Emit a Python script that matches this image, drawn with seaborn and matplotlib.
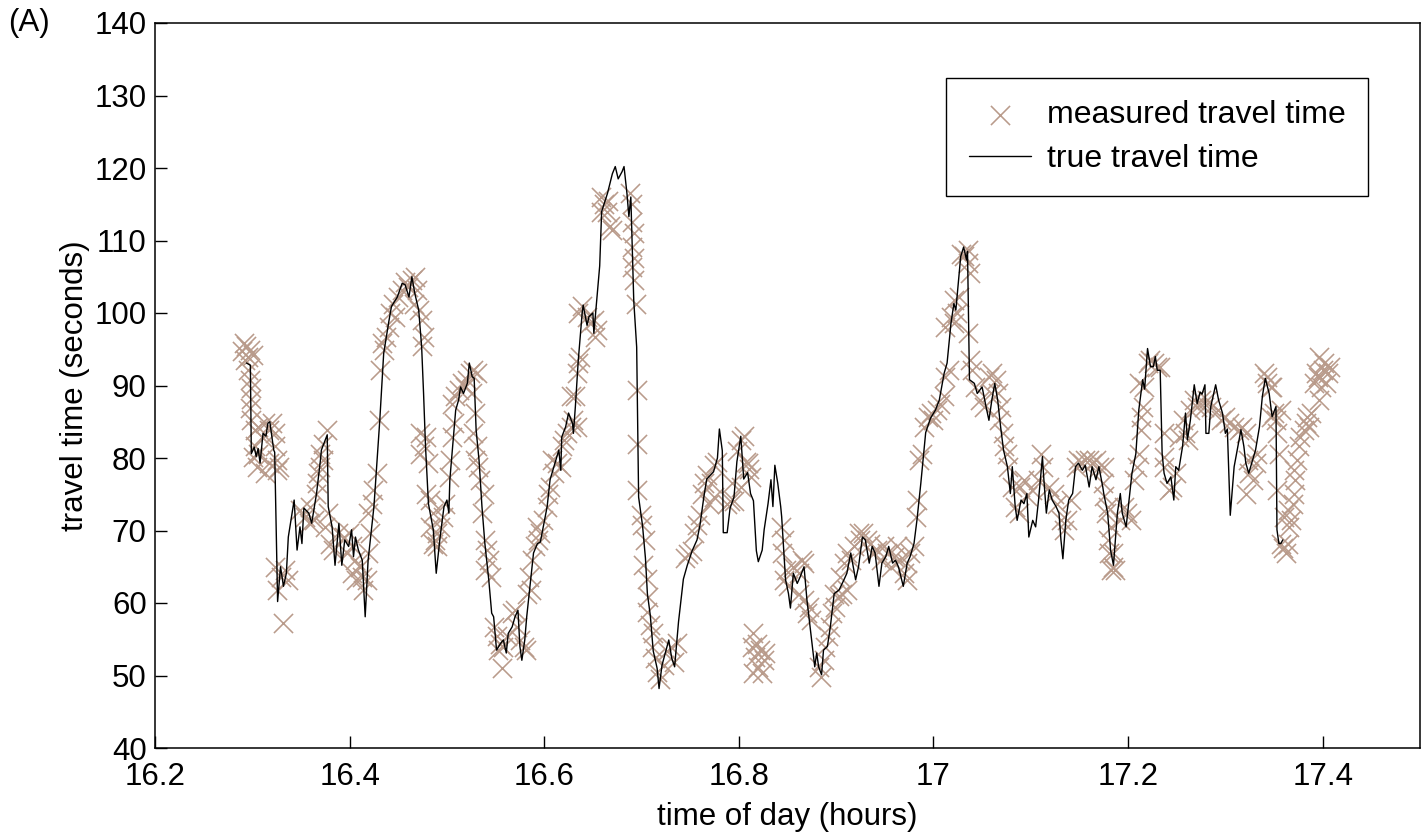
import matplotlib
matplotlib.use("Agg")
import matplotlib.pyplot as plt
import seaborn as sns
import pandas as pd

# True travel time (time of day in hours, travel time in seconds)
t_true = [
    16.294, 16.298, 16.299, 16.302, 16.304, 16.306, 16.308, 16.311, 16.314, 16.316,
    16.318, 16.322, 16.323, 16.326, 16.329, 16.332, 16.335, 16.337, 16.343, 16.346,
    16.349, 16.351, 16.353, 16.358, 16.361, 16.366, 16.370, 16.371, 16.377, 16.378,
    16.382, 16.385, 16.389, 16.392, 16.395, 16.399, 16.402, 16.404, 16.406, 16.409,
    16.413, 16.416, 16.419, 16.425, 16.431, 16.435, 16.440, 16.443, 16.449, 16.454,
    16.457, 16.461, 16.464, 16.467, 16.471, 16.474, 16.476, 16.478, 16.481, 16.486,
    16.489, 16.493, 16.497, 16.500, 16.502, 16.503, 16.509, 16.512, 16.514, 16.517,
    16.521, 16.523, 16.526, 16.528, 16.530, 16.533, 16.536, 16.539, 16.543, 16.546,
    16.548, 16.551, 16.555, 16.558, 16.561, 16.563, 16.567, 16.570, 16.573, 16.575,
    16.577, 16.580, 16.582, 16.586, 16.589, 16.593, 16.596, 16.599, 16.603, 16.606,
    16.610, 16.615, 16.617, 16.618, 16.622, 16.625, 16.629, 16.630, 16.632, 16.635,
    16.639, 16.640, 16.644, 16.646, 16.650, 16.651, 16.654, 16.657, 16.659, 16.665,
    16.670, 16.673, 16.676, 16.680, 16.682, 16.685, 16.687, 16.689, 16.692, 16.695,
    16.697, 16.701, 16.704, 16.706, 16.709, 16.712, 16.716, 16.718, 16.721, 16.724,
    16.728, 16.731, 16.734, 16.738, 16.743, 16.747, 16.752, 16.757, 16.760, 16.764,
    16.767, 16.774, 16.778, 16.780, 16.783, 16.784, 16.788, 16.791, 16.795, 16.798,
    16.802, 16.805, 16.809, 16.812, 16.815, 16.818, 16.820, 16.824, 16.826, 16.830,
    16.833, 16.835, 16.837, 16.840, 16.843, 16.844, 16.848, 16.851, 16.853, 16.856,
    16.860, 16.863, 16.867, 16.870, 16.874, 16.878, 16.880, 16.882, 16.885, 16.887,
    16.891, 16.894, 16.898, 16.903, 16.908, 16.911, 16.915, 16.920, 16.923, 16.927,
    16.930, 16.934, 16.937, 16.940, 16.944, 16.947, 16.951, 16.954, 16.958, 16.961,
    16.964, 16.969, 16.973, 16.976, 16.980, 16.983, 16.987, 16.992, 16.997, 17.002,
    17.006, 17.011, 17.014, 17.018, 17.021, 17.023, 17.028, 17.031, 17.034, 17.035,
    17.037, 17.042, 17.045, 17.050, 17.054, 17.057, 17.060, 17.063, 17.066, 17.069,
    17.072, 17.076, 17.079, 17.081, 17.084, 17.086, 17.090, 17.093, 17.096, 17.098,
    17.102, 17.105, 17.108, 17.112, 17.113, 17.116, 17.119, 17.122, 17.126, 17.129,
    17.131, 17.133, 17.136, 17.139, 17.143, 17.146, 17.149, 17.153, 17.156, 17.160,
    17.163, 17.167, 17.170, 17.174, 17.175, 17.179, 17.182, 17.185, 17.189, 17.192,
    17.194, 17.198, 17.201, 17.204, 17.208, 17.211, 17.215, 17.217, 17.220, 17.223,
    17.226, 17.228, 17.230, 17.233, 17.235, 17.237, 17.240, 17.244, 17.247, 17.249,
    17.252, 17.256, 17.259, 17.261, 17.264, 17.268, 17.271, 17.274, 17.276, 17.279,
    17.280, 17.283, 17.285, 17.290, 17.293, 17.297, 17.300, 17.302, 17.305, 17.309,
    17.316, 17.319, 17.321, 17.324, 17.328, 17.331, 17.335, 17.338, 17.341, 17.345,
    17.348, 17.352, 17.353, 17.355, 17.357, 17.359,
]
v_true = [
    93.1, 92.8, 80.6, 81.5, 80.2, 81.3, 79.3, 83.4, 83.0, 84.8,
    85.0, 81.1, 80.8, 60.2, 65.0, 62.3, 64.1, 69.1, 74.2, 67.3,
    70.5, 68.2, 73.1, 72.4, 71.0, 75.1, 79.7, 81.1, 83.2, 73.3,
    70.5, 65.2, 71.0, 65.2, 68.7, 67.8, 70.1, 66.4, 69.1, 67.3,
    65.9, 58.1, 65.9, 73.3, 85.2, 94.4, 98.6, 100.9, 102.2, 104.1,
    103.9, 102.2, 105.0, 102.7, 100.4, 95.4, 88.9, 81.6, 73.7, 70.1,
    64.1, 69.1, 73.3, 74.2, 72.4, 77.0, 86.6, 88.0, 89.8, 88.9,
    90.3, 93.1, 91.2, 91.0, 83.9, 79.7, 73.3, 68.2, 63.2, 58.6,
    58.1, 53.5, 54.4, 54.9, 53.1, 55.8, 56.7, 58.1, 59.0, 54.0,
    52.1, 54.9, 58.1, 63.2, 66.9, 68.2, 68.4, 70.5, 73.3, 77.0,
    78.8, 81.1, 78.3, 82.9, 84.3, 86.2, 84.8, 83.4, 87.1, 93.5,
    100.0, 101.1, 98.3, 99.5, 100.0, 97.2, 101.8, 106.5, 114.0, 116.5,
    119.2, 120.2, 118.5, 119.5, 120.2, 116.5, 113.3, 116.0, 101.7, 95.3,
    74.6, 70.7, 66.2, 61.3, 58.3, 53.4, 51.0, 48.2, 51.4, 52.9,
    54.9, 52.4, 51.2, 57.4, 63.3, 65.2, 67.2, 68.7, 70.7, 74.6,
    77.1, 78.1, 80.0, 84.0, 81.0, 69.7, 69.7, 73.1, 74.6, 79.5,
    83.0, 77.1, 78.0, 75.1, 74.1, 67.2, 65.7, 67.3, 70.1, 73.7,
    77.0, 73.3, 79.0, 76.5, 73.3, 71.9, 63.2, 61.3, 59.3, 64.1,
    62.7, 63.6, 65.0, 60.4, 55.8, 51.2, 53.1, 51.2, 50.1, 53.5,
    54.0, 56.7, 61.3, 61.8, 63.2, 64.1, 66.9, 63.2, 65.0, 69.1,
    68.7, 65.5, 67.8, 66.9, 62.3, 65.5, 66.4, 67.8, 65.5, 65.9,
    65.0, 62.3, 65.5, 66.4, 68.2, 71.4, 76.5, 83.5, 85.5, 86.6,
    88.0, 91.7, 93.1, 98.6, 101.3, 100.4, 107.8, 109.1, 107.3, 108.5,
    90.8, 90.3, 88.9, 89.8, 87.1, 85.2, 88.0, 90.3, 88.0, 84.3,
    81.1, 78.8, 75.1, 78.8, 73.3, 71.4, 74.2, 73.7, 75.1, 69.1,
    71.4, 70.5, 74.2, 80.2, 77.9, 72.4, 75.6, 74.2, 73.3, 72.4,
    68.7, 66.1, 71.4, 74.2, 75.1, 78.8, 79.3, 78.3, 79.0, 76.0,
    78.8, 77.0, 78.8, 76.0, 75.1, 72.4, 67.3, 65.2, 72.4, 75.1,
    72.4, 70.5, 74.2, 77.9, 80.6, 86.6, 90.8, 89.5, 95.1, 92.6,
    92.6, 94.0, 92.1, 92.1, 80.6, 77.9, 76.5, 77.4, 74.2, 78.8,
    78.3, 81.6, 86.2, 82.5, 85.2, 90.1, 87.5, 89.1, 88.8, 90.1,
    83.4, 83.4, 87.1, 90.1, 88.0, 86.2, 83.4, 84.0, 72.1, 78.8,
    83.9, 81.6, 79.3, 77.9, 79.7, 81.1, 84.3, 88.5, 91.0, 88.9,
    85.7, 87.1, 70.1, 68.2, 68.2, 68.7,
]

# Measured travel time samples
t_meas = [
    16.291, 16.294, 16.298, 16.289, 16.296, 16.301, 16.293, 16.296, 16.298, 16.299,
    16.299, 16.298, 16.299, 16.303, 16.306, 16.313, 16.317, 16.320, 16.323, 16.310,
    16.303, 16.306, 16.323, 16.325, 16.305, 16.313, 16.327, 16.301, 16.317, 16.325,
    16.323, 16.329, 16.334, 16.325, 16.337, 16.332,
    16.349, 16.354, 16.358, 16.363, 16.359, 16.365, 16.366, 16.370, 16.370, 16.373,
    16.377, 16.373, 16.368, 16.378, 16.375, 16.380, 16.383, 16.388, 16.394, 16.399,
    16.402, 16.397, 16.406, 16.402, 16.407, 16.413, 16.414, 16.418, 16.411, 16.419,
    16.421, 16.419, 16.423, 16.424, 16.428, 16.430, 16.431, 16.433, 16.437, 16.435,
    16.440, 16.442, 16.445, 16.447, 16.450, 16.454, 16.457, 16.460, 16.464, 16.467,
    16.469, 16.466, 16.471, 16.474, 16.476, 16.474, 16.472, 16.478, 16.476, 16.472,
    16.481, 16.479, 16.483, 16.486, 16.483, 16.488, 16.490, 16.490, 16.486, 16.493,
    16.498, 16.496, 16.502, 16.503, 16.505, 16.507, 16.505, 16.508, 16.512, 16.515,
    16.519, 16.521, 16.524, 16.527, 16.531, 16.526, 16.529, 16.527, 16.531, 16.529,
    16.532, 16.534, 16.538, 16.536, 16.539, 16.541, 16.543, 16.539, 16.545, 16.548,
    16.551, 16.555, 16.558, 16.553, 16.557, 16.562, 16.567, 16.570, 16.572, 16.575,
    16.579, 16.581, 16.582, 16.586, 16.584, 16.587, 16.591, 16.594, 16.596, 16.593,
    16.599, 16.603, 16.604, 16.606, 16.610, 16.613, 16.608, 16.617, 16.618, 16.620,
    16.623, 16.627, 16.630, 16.634, 16.627, 16.632, 16.634, 16.635, 16.637, 16.635,
    16.639, 16.644, 16.647, 16.651, 16.654, 16.652,
    16.658, 16.661, 16.666, 16.668, 16.665, 16.658, 16.670,
    16.688, 16.690, 16.690, 16.692, 16.690, 16.692, 16.692, 16.694, 16.690, 16.695,
    16.695, 16.695, 16.699, 16.700, 16.704, 16.702, 16.706, 16.707, 16.706, 16.709,
    16.712, 16.711, 16.714, 16.716, 16.719, 16.723, 16.726, 16.730, 16.733, 16.736,
    16.745, 16.748, 16.752, 16.754, 16.757, 16.760, 16.762, 16.764, 16.767, 16.771,
    16.774, 16.778, 16.774, 16.769, 16.788, 16.791, 16.793, 16.795, 16.798, 16.802,
    16.805, 16.807, 16.809, 16.810, 16.812, 16.802,
    16.815, 16.819, 16.822, 16.817, 16.826, 16.820, 16.815, 16.824, 16.827, 16.814,
    16.843, 16.846, 16.844, 16.848, 16.846, 16.851, 16.856, 16.862, 16.865, 16.867,
    16.862, 16.867, 16.870, 16.874, 16.872, 16.884, 16.882, 16.887, 16.889, 16.892,
    16.894, 16.896, 16.899, 16.898, 16.903, 16.906, 16.911, 16.904, 16.908, 16.911,
    16.915, 16.918, 16.923, 16.925, 16.928, 16.932, 16.935, 16.937, 16.942, 16.946,
    16.949, 16.952, 16.956, 16.959, 16.963, 16.966, 16.970, 16.973, 16.976, 16.980,
    16.973, 16.982, 16.983, 16.985, 16.988, 16.990, 16.994, 16.997, 17.000, 17.004,
    17.007, 17.011, 17.012, 17.016, 17.012, 17.018, 17.021, 17.024, 17.021, 17.026,
    17.028, 17.031, 17.035, 17.036, 17.038, 17.036, 17.038, 17.040, 17.043, 17.048,
    17.052, 17.057, 17.060, 17.064, 17.059, 17.066, 17.069, 17.067, 17.071, 17.072,
    17.076, 17.077, 17.081, 17.084, 17.088, 17.089, 17.093, 17.096, 17.101, 17.107,
    17.110, 17.113, 17.119, 17.124, 17.127, 17.131, 17.134, 17.137, 17.141, 17.146,
    17.149, 17.153, 17.156, 17.160, 17.163, 17.167, 17.170, 17.174, 17.175, 17.177,
    17.179, 17.180, 17.182, 17.185, 17.175, 17.179, 17.182, 17.184, 17.187, 17.192,
    17.196, 17.199, 17.203, 17.206, 17.209, 17.211, 17.213, 17.213, 17.215, 17.211,
    17.216, 17.220, 17.223, 17.227, 17.230, 17.233, 17.237, 17.237, 17.237, 17.242,
    17.245, 17.249, 17.252, 17.256, 17.259, 17.262, 17.264, 17.268, 17.271, 17.275,
    17.278, 17.281, 17.285, 17.292, 17.295, 17.300, 17.304, 17.309, 17.314, 17.317,
    17.321, 17.323, 17.324, 17.321, 17.328, 17.331, 17.333, 17.340, 17.343, 17.347,
    17.343, 17.348, 17.347, 17.350, 17.352, 17.353, 17.357, 17.355, 17.353,
    17.357, 17.362, 17.359, 17.364, 17.360, 17.364, 17.365, 17.367, 17.369, 17.371,
    17.372, 17.371, 17.374, 17.376, 17.377, 17.381, 17.383, 17.384, 17.386, 17.388,
    17.396, 17.391, 17.395, 17.400, 17.401, 17.396, 17.405, 17.407, 17.403, 17.398,
    17.393,
]
v_meas = [
    95.8, 95.4, 94.9, 94.7, 94.0, 94.2, 93.5, 92.1, 90.8, 89.6,
    88.2, 86.9, 85.2, 83.9, 84.3, 84.8, 83.9, 84.8, 83.4, 82.9,
    81.6, 80.6, 81.6, 79.7, 78.8, 77.9, 78.8, 80.2, 79.3, 78.3,
    65.0, 63.6, 64.5, 61.8, 63.2, 57.2,
    72.8, 71.9, 71.0, 71.4, 73.3, 75.1, 76.5, 78.8, 80.6, 82.0,
    83.9, 79.7, 77.9, 72.4, 70.5, 68.2, 67.3, 69.6, 69.1, 69.6,
    67.8, 66.9, 65.9, 64.1, 63.2, 63.6, 61.8, 63.2, 65.0, 66.9,
    69.6, 72.4, 73.7, 75.6, 77.9, 85.2, 92.1, 95.8, 96.7, 94.9,
    98.1, 100.0, 101.3, 99.5, 102.2, 103.2, 104.3, 103.6, 104.6, 105.0,
    103.2, 101.3, 100.4, 99.0, 96.7, 95.4, 83.4, 82.9, 81.6, 80.6,
    79.3, 75.1, 74.2, 72.4, 70.5, 68.7, 67.8, 69.6, 68.2, 70.5,
    73.7, 71.9, 77.4, 79.7, 82.9, 84.8, 87.5, 88.5, 89.4, 90.3,
    89.8, 90.8, 91.7, 92.1, 91.7, 88.9, 86.2, 83.4, 81.6, 79.7,
    78.8, 77.0, 75.1, 72.4, 68.7, 67.3, 65.9, 64.5, 63.6, 56.7,
    55.4, 54.4, 54.0, 53.5, 51.0, 55.4, 58.6, 59.0, 56.7, 54.9,
    54.0, 53.5, 61.3, 61.8, 63.6, 65.9, 67.8, 68.7, 69.6, 70.5,
    71.4, 73.3, 75.1, 76.0, 77.9, 79.3, 79.7, 78.8, 81.6, 82.5,
    83.4, 84.3, 85.2, 84.3, 88.5, 88.5, 91.7, 93.1, 94.0, 100.0,
    100.9, 99.5, 98.6, 99.0, 97.7, 96.7,
    116.0, 115.0, 115.5, 112.0, 114.0, 114.0, 111.5,
    116.5, 115.0, 112.5, 111.0, 109.1, 107.6, 104.6, 101.2, 106.4, 89.4,
    82.0, 75.6, 72.1, 70.7, 68.7, 65.2, 63.3, 60.8, 58.8, 56.9,
    55.9, 53.9, 52.4, 50.5, 49.5, 51.4, 53.4, 53.9, 51.9, 54.5,
    66.2, 66.7, 67.2, 69.7, 70.7, 72.1, 75.1, 76.6, 77.6, 76.6,
    79.0, 79.5, 74.6, 73.6, 73.6, 74.1, 76.6, 74.1, 81.0, 82.5,
    83.0, 79.5, 79.3, 78.5, 77.4, 76.0,
    55.8, 54.4, 53.5, 52.6, 52.1, 51.2, 50.3, 50.3, 53.1, 54.0,
    70.5, 68.7, 66.9, 64.5, 63.2, 62.3, 65.0, 64.1, 65.9, 65.5,
    61.3, 60.4, 58.6, 57.7, 59.5, 49.8, 51.2, 52.1, 54.0, 55.4,
    56.7, 58.6, 59.5, 61.3, 60.9, 61.3, 61.8, 63.6, 65.5, 66.9,
    65.9, 67.8, 69.6, 68.7, 69.6, 68.7, 68.2, 66.9, 67.3, 65.9,
    67.8, 66.9, 65.0, 66.4, 67.8, 65.9, 64.1, 65.5, 66.9, 67.8,
    63.2, 71.9, 74.2, 79.7, 80.6, 84.3, 85.7, 86.2, 85.2, 86.6,
    87.5, 88.5, 91.2, 92.1, 98.1, 99.5, 98.6, 100.0, 101.8, 102.2,
    108.2, 107.8, 108.7, 106.9, 105.5, 97.2, 93.5, 92.1, 89.8, 88.0,
    87.1, 91.2, 91.7, 90.8, 88.9, 88.9, 87.1, 85.2, 83.4, 81.6,
    80.6, 78.8, 76.0, 73.3, 72.4, 76.0, 77.0, 74.7, 75.6, 77.0,
    80.6, 78.8, 76.0, 75.1, 73.7, 71.4, 70.1, 71.4, 74.2, 78.8,
    79.7, 79.3, 79.7, 79.7, 79.3, 79.7, 78.8, 76.5, 74.7, 72.4,
    68.7, 66.9, 64.5, 65.0, 78.8, 73.3, 70.5, 66.9, 64.5, 71.4,
    73.3, 72.4, 71.4, 77.0, 78.8, 80.6, 83.9, 85.7, 87.1, 90.3,
    89.8, 93.1, 93.5, 93.1, 92.6, 92.6, 83.4, 80.2, 78.8, 75.6,
    76.0, 77.9, 82.9, 85.2, 83.4, 82.5, 86.6, 88.0, 87.1, 88.0,
    87.1, 88.0, 87.1, 86.6, 85.2, 85.7, 84.8, 84.3, 83.9, 84.3,
    83.4, 79.7, 77.9, 75.1, 77.0, 79.3, 80.6, 91.7, 90.3, 89.8,
    91.2, 89.8, 85.7, 86.2, 85.2, 83.4, 86.6, 80.6, 75.6,
    68.2, 66.9, 67.6, 68.2, 71.9, 72.8, 70.5, 71.4, 73.7, 75.1,
    77.0, 78.3, 79.7, 81.6, 82.9, 83.9, 84.8, 85.7, 84.3, 86.2,
    88.0, 90.3, 91.2, 92.1, 93.1, 94.0, 91.7, 92.6, 90.3, 89.8,
    91.7,
]

x_ticks = [16.2, 16.4, 16.6, 16.8, 17.0, 17.2, 17.4]
x_tick_labels = ["16.2", "16.4", "16.6", "16.8", "17", "17.2", "17.4"]
y_ticks = [40, 50, 60, 70, 80, 90, 100, 110, 120, 130, 140]

meas = pd.DataFrame({"t": t_meas, "v": v_meas})
true = pd.DataFrame({"t": t_true, "v": v_true})

sns.set_theme(style="white")
plt.rcParams["font.family"] = ["Liberation Sans", "DejaVu Sans"]
plt.rcParams["text.color"] = "black"
FS = 22.5
LEG_FS = 23

fig = plt.figure(figsize=(14.28, 8.34), dpi=100)
ax = fig.add_axes([155 / 1428, 1 - 748 / 834, 1265 / 1428, 725 / 834])

marker_color = "#b99b8b"
sns.scatterplot(data=meas, x="t", y="v", marker="x", s=190, color=marker_color,
                linewidth=1.15, ax=ax, label="measured travel time", zorder=2)
sns.lineplot(data=true, x="t", y="v", color="black", linewidth=1.0, sort=False,
             estimator=None, ax=ax, label="true travel time", zorder=3)

ax.set_xlim(16.2, 17.5)
ax.set_ylim(40, 140)
ax.set_xticks(x_ticks)
ax.set_xticklabels(x_tick_labels)
ax.set_yticks(y_ticks)
ax.tick_params(axis="both", which="major", direction="in", length=8.5, width=1.0,
               labelsize=FS, colors="black", bottom=True, left=True,
               top=False, right=False)
ax.tick_params(axis="x", pad=10)
ax.tick_params(axis="y", pad=6)
for sp in ax.spines.values():
    sp.set_visible(True)
    sp.set_color("black")
    sp.set_linewidth(1.1)

ax.set_xlabel("time of day (hours)", fontsize=FS, color="black", labelpad=7)
ax.set_ylabel("travel time (seconds)", fontsize=FS, color="black", labelpad=3)

leg = ax.legend(loc="upper right", bbox_to_anchor=(0.959, 0.924), fontsize=LEG_FS,
                frameon=True, fancybox=False, edgecolor="black", framealpha=1,
                handlelength=1.95, handletextpad=0.5, borderpad=0.7,
                labelspacing=0.42, borderaxespad=0)
leg.get_frame().set_linewidth(1.0)
for txt in leg.get_texts():
    txt.set_color("black")

fig.text(8 / 1428, 1 - 8 / 834, "(A)", fontsize=FS, va="top", ha="left",
         color="black")

fig.savefig("out.png", dpi=100, facecolor="white")
